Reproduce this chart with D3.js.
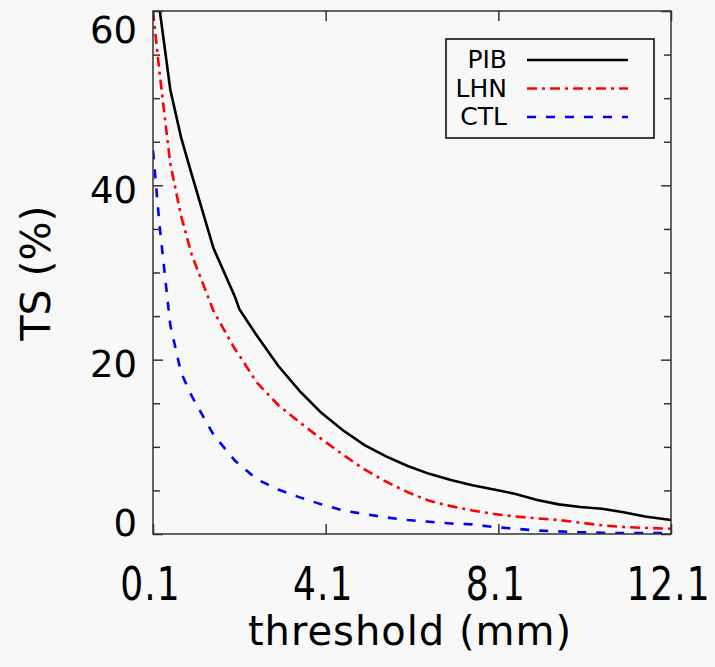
<!DOCTYPE html>
<html>
<head>
<meta charset="utf-8">
<script src="https://cdn.jsdelivr.net/npm/d3@7"></script>
<style>
  html, body { margin: 0; padding: 0; background: #f8f8f8; }
  text { font-family: "DejaVu Sans", sans-serif; fill: #000; }
</style>
</head>
<body>
<div id="chart"></div>
<script>
// thresholds (mm) and TS (%)
let thresholds = [0.1, 0.25, 0.5, 0.75, 1.0, 1.5, 2.0, 2.1, 2.5, 3.0, 3.5, 4.0, 4.5, 5.0, 5.5, 6.0, 6.5, 7.0, 7.5, 8.0, 8.5, 9.0, 9.5, 10.0, 10.5, 11.0, 11.5, 12.1];
let pib = [64, 60.3, 51, 45.5, 41.2, 32.8, 27.2, 25.8, 22.8, 19.3, 16.4, 13.9, 11.9, 10.2, 8.9, 7.8, 6.9, 6.2, 5.6, 5.1, 4.6, 3.9, 3.4, 3.1, 2.9, 2.5, 2.0, 1.6];
let lhn = [60, 53, 42.5, 36.5, 32, 25.6, 21.2, 20.5, 17.4, 14.8, 12.8, 10.9, 9.1, 7.4, 6.0, 4.8, 3.8, 3.2, 2.7, 2.3, 2.0, 1.8, 1.6, 1.3, 1.0, 0.8, 0.7, 0.6];
let ctl = [44, 35.5, 24, 18.5, 15.8, 11.4, 8.4, 8.0, 6.3, 5.1, 4.2, 3.4, 2.7, 2.3, 1.9, 1.6, 1.4, 1.2, 1.1, 0.8, 0.6, 0.4, 0.3, 0.2, 0.15, 0.1, 0.1, 0.1];

let seriesNames = ["PIB", "LHN", "CTL"];
let seriesColors = ["#000000", "#ff0000", "#0000ff"];
let seriesDash = [null, "10,5,3,5", "9,10"];

let xTicks = [0.1, 4.1, 8.1, 12.1];
let yTicks = [0, 20, 40, 60];
let yMinorTicks = [5, 10, 15, 25, 30, 35, 45, 50, 55];

let width = 715;
let height = 667;
let margin = {left: 153, right: 44, top: 11, bottom: 133};

let svg = d3.select("#chart").append("svg")
  .attr("width", width)
  .attr("height", height);

svg.append("rect")
  .attr("width", width)
  .attr("height", height)
  .attr("fill", "#f8f8f8");

let x = d3.scaleLinear()
  .domain([0.1, 12.1])
  .range([margin.left, width - margin.right]);

let y = d3.scaleLinear()
  .domain([0, 60])
  .range([height - margin.bottom, margin.top]);

// clip so the curves stay inside the frame
svg.append("clipPath")
  .attr("id", "plot-clip")
  .append("rect")
  .attr("x", margin.left)
  .attr("y", margin.top)
  .attr("width", width - margin.left - margin.right)
  .attr("height", height - margin.top - margin.bottom);

let line = d3.line()
  .x(function(d) { return x(d[0]); })
  .y(function(d) { return y(d[1]); });

let allSeries = [pib, lhn, ctl];

svg.append("g")
  .attr("clip-path", "url(#plot-clip)")
  .selectAll("path")
  .data(allSeries)
  .enter()
  .append("path")
  .attr("fill", "none")
  .attr("stroke", function(d, i) { return seriesColors[i]; })
  .attr("stroke-width", 2.6)
  .attr("stroke-dasharray", function(d, i) { return seriesDash[i]; })
  .attr("d", function(vals) {
    return line(thresholds.map(function(t, j) { return [t, vals[j]]; }));
  });

// axes with inward ticks on all four sides
let axisColor = "#333";

let bottomAxis = svg.append("g")
  .attr("transform", "translate(0," + (height - margin.bottom) + ")")
  .call(d3.axisBottom(x).tickValues(xTicks).tickSizeInner(-10).tickSizeOuter(0)
    .tickFormat(d3.format(".1f")));

let topAxis = svg.append("g")
  .attr("transform", "translate(0," + margin.top + ")")
  .call(d3.axisTop(x).tickValues(xTicks).tickSizeInner(-10).tickSizeOuter(0).tickFormat(""));

let leftAxis = svg.append("g")
  .attr("transform", "translate(" + margin.left + ",0)")
  .call(d3.axisLeft(y).tickValues(yTicks).tickSizeInner(-10).tickSizeOuter(0).tickPadding(16));

let leftMinor = svg.append("g")
  .attr("transform", "translate(" + margin.left + ",0)")
  .call(d3.axisLeft(y).tickValues(yMinorTicks).tickSizeInner(-7).tickSizeOuter(0).tickFormat(""));

let rightAxis = svg.append("g")
  .attr("transform", "translate(" + (width - margin.right) + ",0)")
  .call(d3.axisRight(y).tickValues(yTicks).tickSizeInner(-10).tickSizeOuter(0).tickFormat(""));

let rightMinor = svg.append("g")
  .attr("transform", "translate(" + (width - margin.right) + ",0)")
  .call(d3.axisRight(y).tickValues(yMinorTicks).tickSizeInner(-7).tickSizeOuter(0).tickFormat(""));

[bottomAxis, topAxis, leftAxis, leftMinor, rightAxis, rightMinor].forEach(function(g) {
  g.selectAll(".domain").remove();
  g.selectAll("line").attr("stroke", axisColor).attr("stroke-width", 1.5);
  g.selectAll("text").attr("fill", "#000");
});

// y labels: end labels kept inside the axis range, others a bit below the tick
leftAxis.selectAll("text")
  .style("font-size", "37px")
  .attr("dy", 0)
  .attr("y", function(d) {
    if (d === 0) return 1;
    if (d === 60) return 31;
    return 17;
  });

// x labels are drawn taller than they are wide in the picture
bottomAxis.selectAll("text")
  .style("font-size", "36px")
  .style("letter-spacing", "1px")
  .attr("dy", 0)
  .attr("y", 0)
  .attr("transform", "translate(-3,66) scale(1,1.3)");

svg.append("rect")
  .attr("x", margin.left)
  .attr("y", margin.top)
  .attr("width", width - margin.left - margin.right)
  .attr("height", height - margin.top - margin.bottom)
  .attr("fill", "none")
  .attr("stroke", axisColor)
  .attr("stroke-width", 1.5);

// axis titles
svg.append("text")
  .attr("x", 410)
  .attr("y", 645)
  .attr("text-anchor", "middle")
  .style("font-size", "40px")
  .style("letter-spacing", "1px")
  .text("threshold (mm)");

svg.append("text")
  .attr("transform", "translate(50,273) rotate(-90)")
  .attr("text-anchor", "middle")
  .style("font-size", "41px")
  .text("TS (%)");

// legend
let legend = svg.append("g");

legend.append("rect")
  .attr("x", 446)
  .attr("y", 39)
  .attr("width", 208)
  .attr("height", 99)
  .attr("fill", "#f8f8f8")
  .attr("stroke", "#000")
  .attr("stroke-width", 1.5);

let items = legend.selectAll(".legend")
  .data(seriesNames)
  .enter().append("g")
  .attr("class", "legend")
  .attr("transform", function(_, i) {
    return "translate(0," + (60 + i * 28.5) + ")";
  });

items.append("line")
  .attr("x1", 527)
  .attr("x2", 628)
  .attr("stroke", function(_, i) { return seriesColors[i]; })
  .attr("stroke-width", 2.6)
  .attr("stroke-dasharray", function(_, i) { return seriesDash[i]; });

items.append("text")
  .attr("x", 507)
  .attr("y", 8)
  .attr("text-anchor", "end")
  .style("font-size", "25px")
  .text(function(d) { return d; });
</script>
</body>
</html>
